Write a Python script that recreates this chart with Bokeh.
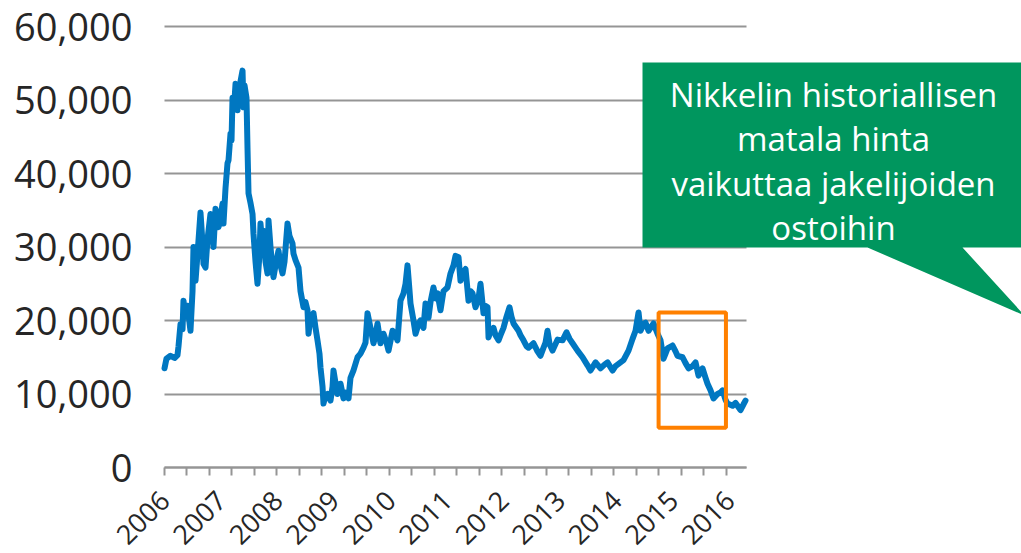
from bokeh.plotting import figure
from bokeh.models import (Range1d, FixedTicker, NumeralTickFormatter, BoxAnnotation,
                          PolyAnnotation, Label)
from bokeh.embed import file_html
from bokeh.resources import INLINE

# ---------------- data (nickel price, USD / tonne) ----------------
years = [
    2006.000, 2006.035, 2006.106, 2006.177, 2006.230, 2006.248, 2006.283, 2006.319, 2006.336, 2006.372,
    2006.407, 2006.460, 2006.496, 2006.513, 2006.549, 2006.584, 2006.637, 2006.673, 2006.690, 2006.726,
    2006.761, 2006.814, 2006.850, 2006.867, 2006.903, 2006.956, 2006.991, 2007.027, 2007.044, 2007.080,
    2007.115, 2007.133, 2007.168, 2007.186, 2007.204, 2007.239, 2007.257, 2007.292, 2007.310, 2007.345,
    2007.381, 2007.398, 2007.416, 2007.451, 2007.469, 2007.487, 2007.522, 2007.558, 2007.575, 2007.611,
    2007.646, 2007.681, 2007.699, 2007.735, 2007.752, 2007.788, 2007.823, 2007.841, 2007.876, 2007.912,
    2007.929, 2007.965, 2008.018, 2008.053, 2008.089, 2008.124, 2008.177, 2008.212, 2008.265, 2008.283,
    2008.319, 2008.372, 2008.407, 2008.460, 2008.496, 2008.531, 2008.549, 2008.584, 2008.637, 2008.673,
    2008.708, 2008.743, 2008.761, 2008.797, 2008.814, 2008.850, 2008.885, 2008.938, 2008.974, 2008.991,
    2009.027, 2009.062, 2009.115, 2009.168, 2009.204, 2009.257, 2009.292, 2009.345, 2009.416, 2009.469,
    2009.522, 2009.558, 2009.593, 2009.646, 2009.699, 2009.735, 2009.770, 2009.823, 2009.876, 2009.929,
    2009.965, 2010.036, 2010.089, 2010.124, 2010.177, 2010.230, 2010.266, 2010.301, 2010.337, 2010.354,
    2010.407, 2010.443, 2010.496, 2010.531, 2010.584, 2010.620, 2010.673, 2010.708, 2010.761, 2010.797,
    2010.832, 2010.885, 2010.938, 2011.009, 2011.062, 2011.115, 2011.151, 2011.204, 2011.239, 2011.275,
    2011.328, 2011.381, 2011.416, 2011.452, 2011.505, 2011.558, 2011.593, 2011.646, 2011.682, 2011.717,
    2011.735, 2011.770, 2011.823, 2011.859, 2011.912, 2011.947, 2012.000, 2012.053, 2012.107, 2012.142,
    2012.177, 2012.266, 2012.301, 2012.354, 2012.407, 2012.443, 2012.531, 2012.602, 2012.655, 2012.708,
    2012.744, 2012.779, 2012.815, 2012.868, 2012.956, 2013.045, 2013.115, 2013.169, 2013.222, 2013.310,
    2013.399, 2013.487, 2013.540, 2013.629, 2013.717, 2013.788, 2013.841, 2013.930, 2013.983, 2014.036,
    2014.124, 2014.213, 2014.284, 2014.337, 2014.390, 2014.425, 2014.478, 2014.514, 2014.567, 2014.602,
    2014.655, 2014.726, 2014.779, 2014.832, 2014.868, 2014.903, 2014.992, 2015.045, 2015.080, 2015.169,
    2015.222, 2015.275, 2015.346, 2015.399, 2015.452, 2015.523, 2015.576, 2015.611, 2015.664, 2015.717,
    2015.788, 2015.841, 2015.877, 2015.930, 2015.965, 2016.054, 2016.107, 2016.142, 2016.195, 2016.248,
    2016.283,
]
prices = [
    13500, 14800, 15200, 14900, 15300, 16500, 19500, 18800, 22700, 20500,
    22000, 18600, 24000, 30000, 25400, 29000, 34700, 30500, 27700, 27200,
    31000, 34500, 31500, 30000, 35200, 32700, 34000, 35900, 33200, 38000,
    41400, 41800, 45400, 44500, 50300, 50000, 52200, 48600, 51700, 52500,
    54000, 49000, 52000, 50300, 43500, 37300, 36000, 34500, 31800, 28000,
    25000, 29000, 33200, 30000, 32200, 28000, 26400, 33600, 30000, 27000,
    25900, 27500, 29500, 27500, 26400, 28000, 33200, 31500, 30500, 29100,
    28200, 27200, 24000, 21800, 22500, 21400, 18200, 20500, 21000, 19000,
    17300, 15500, 13600, 11000, 8700, 9800, 10000, 9100, 11000, 13200,
    11500, 10000, 11400, 9400, 10200, 9400, 12200, 13200, 15000, 15500,
    16300, 17000, 21000, 19000, 16900, 18000, 19600, 16900, 18200, 17000,
    15900, 18600, 18000, 17300, 22700, 23700, 25000, 27500, 24000, 22300,
    20000, 18200, 19500, 20000, 19000, 22300, 20400, 22500, 24500, 23000,
    23700, 21400, 24000, 24500, 26400, 27500, 28800, 28600, 25400, 26500,
    27000, 22700, 24000, 23700, 21800, 23000, 25000, 21000, 22000, 21800,
    17700, 18500, 19000, 18000, 17300, 18000, 19000, 20500, 21800, 20500,
    19600, 18600, 18000, 17300, 16500, 16300, 16900, 15800, 15200, 16300,
    17000, 18600, 16800, 15900, 17400, 17300, 18400, 17500, 16900, 15900,
    15000, 13900, 13200, 14300, 13500, 14000, 14300, 13200, 13800, 14100,
    14600, 15900, 17500, 18600, 21100, 18600, 19500, 19700, 18600, 19000,
    19600, 18200, 17300, 14800, 15500, 16200, 16600, 15800, 15200, 15000,
    14200, 13500, 13800, 14300, 12500, 13500, 12200, 11400, 10500, 9400,
    10000, 10200, 10500, 9200, 8700, 8400, 8800, 8400, 7800, 8600,
    9100,
]

x_label_years = list(range(2006, 2017))
y_ticks = [0, 10000, 20000, 30000, 40000, 50000, 60000]

# highlighted period (orange box), in data units
highlight_x = (2014.745, 2015.937)
highlight_y = (5400, 21100)

callout_lines = ["Nikkelin historiallisen", "matala hinta", "vaikuttaa jakelijoiden", "ostoihin"]

# ---------------- layout ----------------
# The frame fills the whole canvas; both axes are pinned inside it, so nothing
# is clipped and the plotting area sits exactly where the reference has it.
W, H = 1021, 553
PLOT_LEFT_PX = 164                 # page x of 2006
PX_PER_YEAR = 56.5
PX_PER_10K = 73.5
ZERO_PX = 467                      # page y of the value 0
X_START = 2006.0
X_AXIS_END = X_START + 582 / PX_PER_YEAR

# page-pixel -> data helpers for layout / decorations
def dx(px):
    return X_START + (px - PLOT_LEFT_PX) / PX_PER_YEAR

def dy(py):
    return (ZERO_PX - py) / PX_PER_10K * 10000

FONT = "Open Sans"
TEXT = "#262626"
GRID = "#959595"

p = figure(width=W, height=H, output_backend="svg", toolbar_location=None,
           x_range=Range1d(dx(0), dx(W)), y_range=Range1d(dy(H), dy(0)),
           min_border_left=0, min_border_right=0,
           min_border_top=0, min_border_bottom=0)
p.outline_line_color = None
p.background_fill_color = "white"
p.border_fill_color = "white"

# grid
p.xgrid.visible = False
p.ygrid.ticker = FixedTicker(ticks=y_ticks)
p.ygrid.grid_line_color = GRID
p.ygrid.grid_line_width = 2
p.ygrid.cross_bounds = (X_START, X_AXIS_END)

# y axis pinned at x = 2006
p.yaxis.fixed_location = X_START
p.yaxis.ticker = FixedTicker(ticks=y_ticks)
p.yaxis.formatter = NumeralTickFormatter(format="0,0")
p.yaxis.axis_line_color = None
p.yaxis.major_tick_line_color = None
p.yaxis.minor_tick_line_color = None
p.yaxis.major_tick_out = 0
p.yaxis.major_tick_in = 0
p.yaxis.major_label_standoff = 32
p.yaxis.major_label_text_font = FONT
p.yaxis.major_label_text_font_size = "38px"
p.yaxis.major_label_text_color = TEXT

# x axis pinned at y = 0
minor = [X_START + k * 0.3977 for k in range(26)]
p.xaxis.fixed_location = 0
p.xaxis.ticker = FixedTicker(ticks=x_label_years, minor_ticks=minor)
p.xaxis.bounds = (X_START, X_AXIS_END)
p.xaxis.axis_line_color = GRID
p.xaxis.axis_line_width = 2
p.xaxis.major_tick_line_color = None
p.xaxis.major_tick_out = 0
p.xaxis.major_tick_in = 0
p.xaxis.minor_tick_line_color = GRID
p.xaxis.minor_tick_line_width = 2
p.xaxis.minor_tick_out = 8
p.xaxis.minor_tick_in = 0
p.xaxis.major_label_orientation = 0.785398
p.xaxis.major_label_standoff = 20
p.xaxis.major_label_text_font = FONT
p.xaxis.major_label_text_font_size = "27px"
p.xaxis.major_label_text_color = TEXT

# price line
p.line(years, prices, line_color="#0077C1", line_width=6,
       line_join="round", line_cap="round")

# orange highlight box
p.add_layout(BoxAnnotation(left=highlight_x[0], right=highlight_x[1],
                           bottom=highlight_y[0], top=highlight_y[1],
                           fill_alpha=0, line_color="#FF8000", line_alpha=1,
                           line_width=4))

# green callout
cx = [642, 1040, 1040, 962, 1024, 867, 642]
cy = [62, 62, 247, 247, 315, 247, 247]
p.add_layout(PolyAnnotation(xs=[dx(v) for v in cx], ys=[dy(v) for v in cy],
                            fill_color="#00965E", fill_alpha=1, line_color=None))
baselines = [94, 138.3, 182.7, 227]
for line, b in zip(callout_lines, baselines):
    p.add_layout(Label(x=dx(833), y=dy(b), text=line, text_align="center",
                       text_baseline="alphabetic", text_color="white",
                       text_font=FONT, text_font_size="33px"))

open("out.html", "w").write(file_html(p, INLINE))
